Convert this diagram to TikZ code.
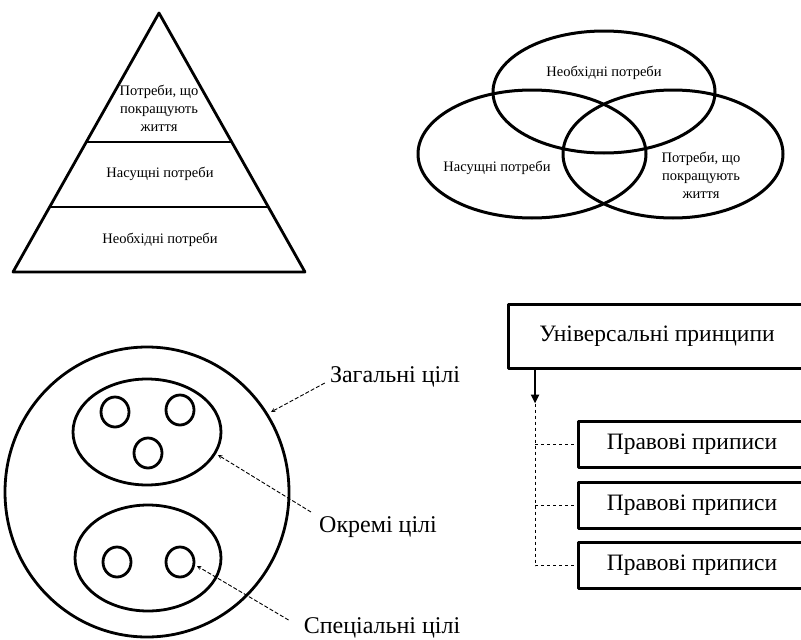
\documentclass[tikz,border=0pt]{standalone}
\usepackage{fontspec}
\setmainfont{Liberation Serif}
\usetikzlibrary{arrows.meta,positioning,calc}

\begin{document}
\begin{tikzpicture}[x=1pt,y=-1pt,>=stealth,line join=round,
	shape line/.style={line width=2.8pt},
	small text/.style={font=\fontsize{14.5}{18}\selectfont,align=center,inner sep=0pt},
	big text/.style={font=\fontsize{24}{28}\selectfont,inner sep=0pt},
	rulebox/.style={draw,line width=3pt,inner sep=0pt,minimum width=228pt,minimum height=46pt,font=\fontsize{23.5}{28}\selectfont},
	hint/.style={->,dash pattern=on 4pt off 2pt,line width=0.9pt}]
	\useasboundingbox (0,0) rectangle (801,640);
	\clip (0,0) rectangle (801,640);
	% pyramid
	\path (159,13) coordinate (P)
	(13,272) coordinate (L)
	(305,272) coordinate (R)
	;
	\draw[shape line] (P)--(L)--(R)--cycle;
	\foreach \t in {0.498,0.749}
	\draw[shape line] ($(P)!\t!(L)$)--($(P)!\t!(R)$);
	\node[small text] (pTop) at (159,108) {Потреби, що\\покращують\\життя};
	\node[small text] (pMid) at (160,174) {Насущні потреби};
	\node[small text] (pLow) at (160,240) {Необхідні потреби};
	% venn
	\draw[line width=3pt] (604,92) ellipse [x radius=111pt,y radius=61pt];
	\draw[line width=3pt] (532,154) ellipse [x radius=114pt,y radius=64pt];
	\draw[line width=3pt] (673,154) ellipse [x radius=110pt,y radius=64pt];
	\node[small text] (vTop) at (604,73) {Необхідні потреби};
	\node[small text] (vLeft) at (497,168) {Насущні потреби};
	\node[small text] (vRight) at (701,175) {Потреби, що\\покращують\\життя};
	% goals
	\draw[shape line] (147,492) ellipse [x radius=142pt,y radius=145pt];
	\draw[shape line] (147,432) ellipse [x radius=74pt,y radius=53pt];
	\draw[shape line] (148,558) ellipse [x radius=73pt,y radius=53pt];
	\foreach \x/\y in {115/412,180/410,148/453,117/562,180/562}
	\draw[shape line] (\x,\y) ellipse [x radius=14pt,y radius=15pt];
	\path (271,412) coordinate (tAll)
	(218,455) coordinate (tOne)
	(197,566) coordinate (tSpec)
	;
	\node[big text] (gAll) at (395,377) {Загальні цілі};
	\node[big text] (gOne) at (378,527) {Окремі цілі};
	\node[big text] (gSpec) at (382,628) {Спеціальні цілі};
	\draw[hint] ([xshift=-5pt,yshift=-6pt]gAll.west)--(tAll);
	\draw[hint] ([xshift=-8pt,yshift=15pt]gOne.west)--(tOne);
	\draw[hint] ([xshift=-15pt,yshift=8pt]gSpec.west)--(tSpec);
	% principles
	\node[rulebox,minimum width=297pt,minimum height=64pt] (uni) at (657,336) {Універсальні принципи};
	\node[rulebox] (r1) at (692,444.5) {Правові приписи};
	\node[rulebox] (r2) at (692,505) {Правові приписи};
	\node[rulebox] (r3) at (692,565.5) {Правові приписи};
	\path (uni.south west) ++(28,0) coordinate (a0);
	\path (a0) ++(0,34) coordinate (a1);
	\draw[-{Triangle[width=8pt,length=9pt]},line width=2.5pt] (a0)--(a1);
	\draw[dashed,line width=0.8pt] (a1)|-(r3.west);
	\foreach \r in {r1,r2}
	\draw[dashed,line width=0.8pt] (a1|-\r.west)--(\r.west);
\end{tikzpicture}
\end{document}
